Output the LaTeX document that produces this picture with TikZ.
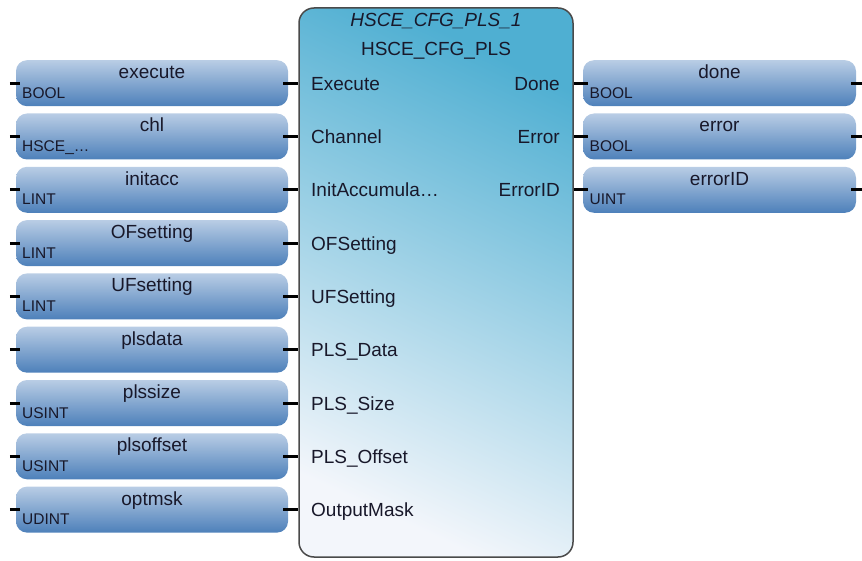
\documentclass[tikz,border=0pt]{standalone}
\usepackage{fontspec}
\setmainfont{Liberation Sans}
\definecolor{boxtop}{HTML}{B9CDE5}
\definecolor{boxbot}{HTML}{4D80BA}
\definecolor{blktop}{HTML}{4FAFD2}
\definecolor{blkmid}{HTML}{A8D1E5}
\definecolor{blkbot}{HTML}{F3F6FB}
\definecolor{txt}{HTML}{18182A}
\definecolor{blkline}{HTML}{4A4A4A}
\begin{document}
\begin{tikzpicture}[x=1pt,y=-1pt,
  varbox/.style={rounded corners=11pt, top color=boxtop, bottom color=boxbot, draw=none,
    minimum width=272pt, minimum height=46pt, inner sep=0pt},
  fblock/.style={rounded corners=15pt, draw=blkline, line width=1.5pt,
    top color=blktop, middle color=blkmid, bottom color=blkbot, shading angle=-25,
    minimum width=274pt, minimum height=549pt, inner sep=0pt},
  pinline/.style={line width=3pt, black},
  vname/.style={font=\fontsize{19}{19}\selectfont, text=txt, inner sep=0pt, anchor=base},
  vtype/.style={font=\fontsize{15.5}{16}\selectfont, text=txt, inner sep=0pt, anchor=base west},
  plbl/.style={font=\fontsize{19}{19}\selectfont, text=txt, inner sep=0pt},
]
\useasboundingbox (0,0) rectangle (862,561);

% function block
\node[fblock] (fb) at (436,282.5) {};
\node[plbl, font=\fontsize{19}{19}\selectfont\itshape, anchor=base] (inst) at (436,27) {HSCE\_CFG\_PLS\_1};
\node[plbl, anchor=base] (ftype) at (436,55.5) {HSCE\_CFG\_PLS};

% left input variables
\foreach \i/\nm/\ty/\pin in {0/execute/BOOL/Execute,1/chl/HSCE\_…/Channel,2/initacc/LINT/InitAccumula…,
  3/OFsetting/LINT/OFSetting,4/UFsetting/LINT/UFSetting,5/plsdata//PLS\_Data,
  6/plssize/USINT/PLS\_Size,7/plsoffset/USINT/PLS\_Offset,8/optmsk/UDINT/OutputMask}{
  \pgfmathsetmacro{\yy}{83.2+53.3*\i}
  \node[varbox] (v\i) at (152,\yy) {};
  \node[vname] (vn\i) at (152,\yy-4.5) {\nm};
  \node[vtype] (vt\i) at (22,\yy+15) {\ty};
  \coordinate (ve\i) at ([xshift=-6pt]v\i.west);
  \coordinate (pin\i) at (fb.west |- v\i.east);
  \node[plbl, anchor=base west] (pl\i) at (311,\yy+7) {\pin};
  \draw[pinline] (ve\i) -- ([xshift=4pt]v\i.west);
  \draw[pinline] ([xshift=-5pt]v\i.east) -- (pin\i);
}

% right output variables
\foreach \i/\nm/\ty/\pin in {0/done/BOOL/Done,1/error/BOOL/Error,2/errorID/UINT/ErrorID}{
  \pgfmathsetmacro{\yy}{83.2+53.3*\i}
  \node[varbox, minimum width=273pt] (o\i) at (719.5,\yy) {};
  \node[vname] (on\i) at (719.5,\yy-4.5) {\nm};
  \node[vtype] (ot\i) at (589.5,\yy+15) {\ty};
  \coordinate (oe\i) at ([xshift=6pt]o\i.east);
  \coordinate (opin\i) at (fb.east |- o\i.west);
  \node[plbl, anchor=base east] (ol\i) at (560,\yy+7) {\pin};
  \draw[pinline] (opin\i) -- ([xshift=5pt]o\i.west);
  \draw[pinline] ([xshift=-5pt]o\i.east) -- (oe\i);
}
\end{tikzpicture}
\end{document}
